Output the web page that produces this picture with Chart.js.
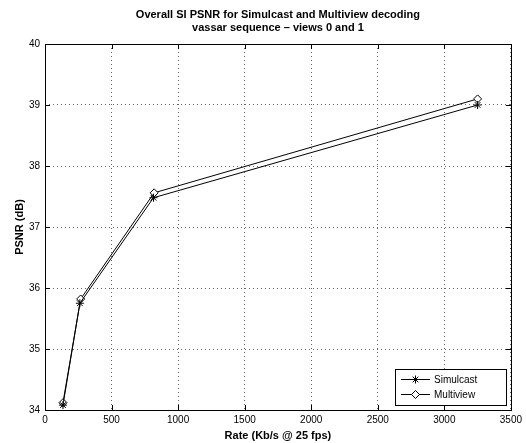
<!DOCTYPE html>
<html>
<head>
<meta charset="utf-8">
<script src="https://cdn.jsdelivr.net/npm/chart.js@4.4.1/dist/chart.umd.min.js"></script>
<style>
  html, body { margin: 0; padding: 0; background: #fff; }
  #wrap { width: 526px; height: 443px; }
</style>
</head>
<body>
<div id="wrap"><canvas id="c"></canvas></div>
<script>
// data
const rateSimulcast = [135, 262, 815, 3250];
const psnrSimulcast = [34.08, 35.75, 37.48, 39.0];
const rateMultiview = [135, 268, 820, 3250];
const psnrMultiview = [34.12, 35.82, 37.56, 39.1];
const xTicks = [0, 500, 1000, 1500, 2000, 2500, 3000, 3500];
const yTicks = [34, 35, 36, 37, 38, 39, 40];
const titleLines = ['Overall SI PSNR for Simulcast and Multiview decoding', 'vassar sequence \u2013 views 0 and 1'];

const FONT = 'Liberation Sans, Arial, Helvetica, sans-serif';

const toPoints = (xs, ys) => xs.map((x, i) => ({ x: x, y: ys[i] }));

// axes box, inward ticks, title and legend like the MATLAB figure
const matlabFrame = {
    id: 'matlabFrame',
    afterDatasetsDraw(chart) {
        const { ctx, chartArea: a, scales } = chart;
        ctx.save();
        ctx.strokeStyle = '#000';
        ctx.lineWidth = 1;
        ctx.setLineDash([]);
        ctx.strokeRect(Math.round(a.left) + 0.5, Math.round(a.top) + 0.5,
            Math.round(a.right - a.left), Math.round(a.bottom - a.top));
        const tl = 5;
        ctx.beginPath();
        xTicks.forEach(v => {
            const px = Math.round(scales.x.getPixelForValue(v)) + 0.5;
            ctx.moveTo(px, a.bottom); ctx.lineTo(px, a.bottom - tl);
            ctx.moveTo(px, a.top); ctx.lineTo(px, a.top + tl);
        });
        yTicks.forEach(v => {
            const py = Math.round(scales.y.getPixelForValue(v)) + 0.5;
            ctx.moveTo(a.left, py); ctx.lineTo(a.left + tl, py);
            ctx.moveTo(a.right, py); ctx.lineTo(a.right - tl, py);
        });
        ctx.stroke();

        // title centred over the axes
        ctx.fillStyle = '#000';
        ctx.font = 'bold 11px ' + FONT;
        ctx.textAlign = 'center';
        ctx.textBaseline = 'middle';
        const cx = (a.left + a.right) / 2;
        ctx.fillText(titleLines[0], cx, 15);
        ctx.fillText(titleLines[1], cx, 28);

        // legend box in the lower right corner
        const bx = 395, by = 369, bw = 111, bh = 36;
        ctx.fillStyle = '#fff';
        ctx.fillRect(bx, by, bw, bh);
        ctx.strokeRect(bx + 0.5, by + 0.5, bw, bh);
        ctx.font = '10px ' + FONT;
        ctx.textAlign = 'left';
        chart.data.datasets.forEach((ds, i) => {
            const ly = by + 10 + i * 15;
            ctx.strokeStyle = '#000';
            ctx.beginPath();
            ctx.moveTo(bx + 6, ly + 0.5);
            ctx.lineTo(bx + 35, ly + 0.5);
            ctx.stroke();
            ctx.fillStyle = ds.pointBackgroundColor;
            ctx.strokeStyle = '#000';
            Chart.helpers.drawPoint(ctx, {
                pointStyle: ds.pointStyle, radius: ds.pointRadius, borderWidth: 1, rotation: 0
            }, bx + 20.5, ly + 0.5);
            ctx.fillStyle = '#000';
            ctx.fillText(ds.label, bx + 39, ly + 1);
        });
        ctx.restore();
    }
};

new Chart(document.getElementById('c'), {
    type: 'scatter',
    data: {
        datasets: [
            {
                label: 'Simulcast',
                data: toPoints(rateSimulcast, psnrSimulcast),
                showLine: true,
                borderColor: '#000',
                borderWidth: 1,
                pointStyle: 'star',
                pointRadius: 4,
                pointBorderColor: '#000',
                pointBackgroundColor: '#000',
                pointBorderWidth: 1
            },
            {
                label: 'Multiview',
                data: toPoints(rateMultiview, psnrMultiview),
                showLine: true,
                borderColor: '#000',
                borderWidth: 1,
                pointStyle: 'rectRot',
                pointRadius: 4,
                pointBorderColor: '#000',
                pointBackgroundColor: '#fff',
                pointBorderWidth: 1
            }
        ]
    },
    options: {
        responsive: true,
        maintainAspectRatio: false,
        animation: false,
        layout: { padding: { top: 44, right: 15, left: 0, bottom: 0 } },
        plugins: {
            legend: { display: false },
            tooltip: { enabled: false },
            title: { display: false }
        },
        scales: {
            x: {
                type: 'linear',
                min: 0, max: 3500,
                afterBuildTicks: s => { s.ticks = xTicks.map(v => ({ value: v })); },
                afterFit: s => { s.height = 33; },
                border: { display: false, dash: [1, 3] },
                grid: { color: '#666', lineWidth: 1, drawTicks: false },
                ticks: { color: '#000', font: { family: FONT, size: 10 }, padding: 4, maxRotation: 0,
                    callback: v => String(v) },
                title: {
                    display: true, text: 'Rate (Kb/s @ 25 fps)', color: '#000',
                    font: { family: FONT, size: 11, weight: 'bold' }, padding: { top: 4, bottom: 0 }
                }
            },
            y: {
                type: 'linear',
                min: 34, max: 40,
                afterBuildTicks: s => { s.ticks = yTicks.map(v => ({ value: v })); },
                afterFit: s => { s.width = 45; },
                border: { display: false, dash: [1, 3] },
                grid: { color: '#666', lineWidth: 1, drawTicks: false },
                ticks: { color: '#000', font: { family: FONT, size: 10 }, padding: 5,
                    callback: v => String(v) },
                title: {
                    display: true, text: 'PSNR (dB)', color: '#000',
                    font: { family: FONT, size: 11, weight: 'bold' }, padding: { top: 13, bottom: 0 }
                }
            }
        }
    },
    plugins: [matlabFrame]
});
</script>
</body>
</html>
